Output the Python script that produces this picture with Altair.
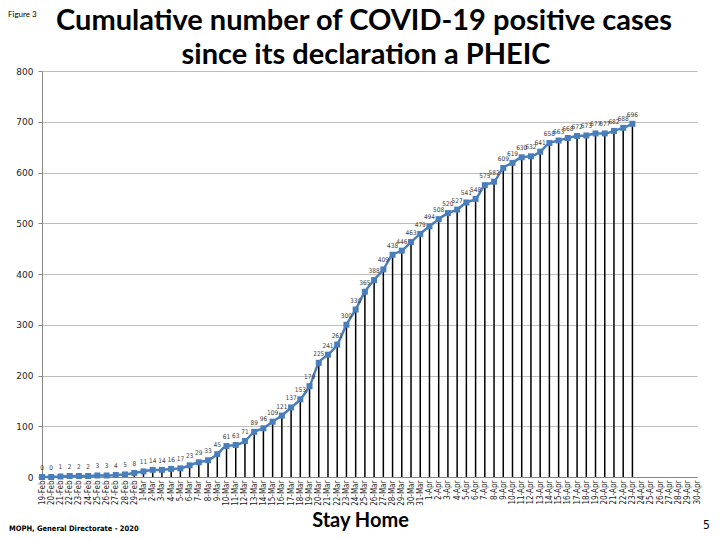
import altair as alt
import pandas as pd

dates = (
    [f"{d}-Feb" for d in range(19, 30)]
    + [f"{d}-Mar" for d in range(1, 32)]
    + [f"{d}-Apr" for d in range(1, 31)]
)
cases = [0, 0, 1, 2, 2, 2, 3, 3, 4, 5, 8,
         11, 14, 14, 16, 17, 23, 29, 33, 45, 61, 63, 71, 89, 96, 109, 121, 137, 153, 179,
         225, 241, 261, 300, 330, 365, 388, 409, 438, 446, 463, 479,
         494, 508, 520, 527, 541, 548, 575, 582, 609, 619, 630, 632, 641, 658, 663, 668,
         672, 673, 677, 677, 682, 688, 696]
title_lines = ["Cumulative number of COVID-19 positive cases", "since its declaration a PHEIC"]

df = pd.DataFrame({"date": dates[:len(cases)], "cases": cases, "zero": 0})

FONT = "DejaVu Sans Condensed, DejaVu Sans, sans-serif"
TFONT = "Lato, sans-serif"

x = alt.X("date:O", scale=alt.Scale(domain=dates, type="point", padding=0),
          sort=None,
          axis=alt.Axis(title="Stay Home", titleFont=TFONT, titleFontSize=20,
                        titleFontWeight="bold", titleColor="black", titleY=49, titleX=318,
                        titleBaseline="alphabetic", titleAlign="center",
                        labelAngle=270, labelFontSize=8, labelColor="#222222",
                        labelFont=FONT, labelPadding=3,
                        ticks=False, domainColor="#888888", domainWidth=1,
                        grid=False, labelOverlap=False))
y = alt.Y("cases:Q", scale=alt.Scale(domain=[0, 800]),
          axis=alt.Axis(title=None, values=list(range(0, 801, 100)), labelFontSize=9,
                        labelFont="DejaVu Sans, sans-serif",
                        labelColor="#222222", tickColor="#888888", tickSize=4,
                        domainColor="#888888", gridColor="#bdbdbd", gridWidth=1,
                        labelPadding=5))

base = alt.Chart(df)

rules = base.mark_rule(color="black", strokeWidth=1.5).encode(
    x=x, y=y, y2="zero:Q")
line = base.mark_line(color="#4A7EBB", strokeWidth=2.5, interpolate="monotone").encode(
    x=x, y=y)
pts = base.mark_point(shape="square", filled=True, size=36, color="#4A7EBB", opacity=1).encode(
    x=x, y=y)
labels = base.mark_text(fontSize=6.5, color="#404040", dy=-9, font=FONT).encode(
    x=x, y=y, text="cases:Q")

t1 = alt.Chart(pd.DataFrame({"t": [title_lines[0]]})).mark_text(
    fontSize=29, fontWeight="bold", color="black", font=TFONT, baseline="alphabetic").encode(
    x=alt.value(322), y=alt.value(-41), text="t:N")
t2 = alt.Chart(pd.DataFrame({"t": [title_lines[1]]})).mark_text(
    fontSize=29, fontWeight="bold", color="black", font=TFONT, baseline="alphabetic").encode(
    x=alt.value(324), y=alt.value(-7), text="t:N")
fig3 = alt.Chart(pd.DataFrame({"t": ["Figure 3"]})).mark_text(
    fontSize=8, color="black", align="left", baseline="alphabetic", font=TFONT).encode(
    x=alt.value(-34), y=alt.value(-54), text="t:N")
page = alt.Chart(pd.DataFrame({"t": ["5"]})).mark_text(
    fontSize=12, color="black", align="left", font=FONT).encode(
    x=alt.value(661), y=alt.value(454), text="t:N")
moph = alt.Chart(pd.DataFrame({"t": ["MOPH, General Directorate - 2020"]})).mark_text(
    fontSize=7.5, fontWeight="bold", color="black", align="left", baseline="alphabetic", font=FONT).encode(
    x=alt.value(-33), y=alt.value(460), text="t:N")

chart = alt.layer(rules, line, pts, labels, t1, t2, fig3, page, moph).properties(
    width=655, height=406,
    autosize=alt.AutoSizeParams(type="none"),
    padding={"left": 34, "top": 63, "right": 15, "bottom": 55},
).configure_view(stroke=None)

chart.save("out.html", embed_options={"renderer": "svg", "actions": False})
